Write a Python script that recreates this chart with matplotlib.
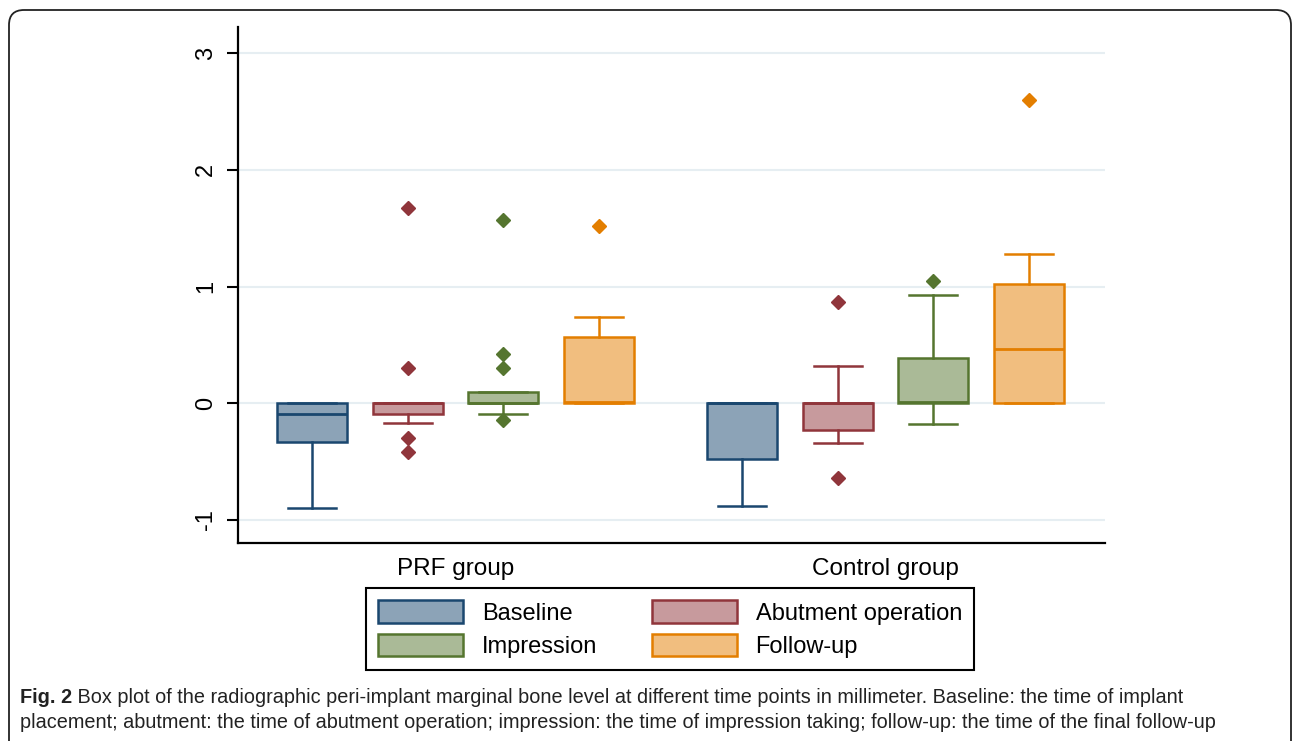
import matplotlib
matplotlib.use("Agg")
import matplotlib.pyplot as plt
from matplotlib.patches import FancyBboxPatch, Patch

plt.rcParams['font.family'] = ['Liberation Sans', 'DejaVu Sans']

stages = ['Baseline', 'Abutment operation', 'Impression', 'Follow-up']
groups = ['PRF group', 'Control group']

# PRF group, one value per stage
prf_q1 = [-0.33, -0.09, 0.00, 0.00]
prf_med = [-0.09, 0.00, 0.00, 0.01]
prf_q3 = [0.00, 0.00, 0.10, 0.57]
prf_lo = [-0.90, -0.165, -0.09, 0.00]
prf_hi = [0.00, 0.00, 0.10, 0.74]
prf_fliers = [[], [1.67, 0.30, -0.30, -0.42], [1.57, 0.42, 0.30, -0.145], [1.52]]

# Control group
ctrl_q1 = [-0.48, -0.23, 0.00, 0.00]
ctrl_med = [0.00, 0.00, 0.01, 0.465]
ctrl_q3 = [0.00, 0.00, 0.39, 1.02]
ctrl_lo = [-0.88, -0.34, -0.18, 0.00]
ctrl_hi = [0.00, 0.32, 0.93, 1.28]
ctrl_fliers = [[], [0.87, -0.64], [1.045], [2.60]]

edge_colors = ['#1A476F', '#90353B', '#55752F', '#E37E00']
fill_colors = ['#8CA3B7', '#C79A9D', '#AABA97', '#F1BE7F']

fig = plt.figure(figsize=(12.95, 7.41), dpi=100)
ax = fig.add_axes([0.1838, 0.2672, 0.6695, 0.6964])

positions = [1, 2, 3, 4, 5.5, 6.5, 7.5, 8.5]
all_stats = []
for q1, med, q3, lo, hi, fl in [(prf_q1, prf_med, prf_q3, prf_lo, prf_hi, prf_fliers),
                                (ctrl_q1, ctrl_med, ctrl_q3, ctrl_lo, ctrl_hi, ctrl_fliers)]:
    for i in range(4):
        all_stats.append(dict(q1=q1[i], med=med[i], q3=q3[i],
                              whislo=lo[i], whishi=hi[i], fliers=fl[i]))

for k, st in enumerate(all_stats):
    i = k % 4
    ec = edge_colors[i]
    ax.bxp([st], positions=[positions[k]], widths=0.73, capwidths=[0.5],
           patch_artist=True, manage_ticks=False,
           boxprops=dict(facecolor=fill_colors[i], edgecolor=ec, linewidth=1.8),
           medianprops=dict(color=ec, linewidth=2.0),
           whiskerprops=dict(color=ec, linewidth=1.8),
           capprops=dict(color=ec, linewidth=1.8),
           flierprops=dict(marker='D', markerfacecolor=ec, markeredgecolor=ec,
                           markersize=7))

ax.set_xlim(0.225, 9.296)
ax.set_ylim(-1.197, 3.223)
ax.set_yticks([-1, 0, 1, 2, 3])
ax.set_yticklabels(['-1', '0', '1', '2', '3'], rotation=90, va='center')
ax.set_xticks([2.5, 7.0])
ax.set_xticklabels(groups)
ax.tick_params(axis='x', length=0, pad=11, labelsize=17.5)
ax.tick_params(axis='y', length=8, width=1.5, pad=7, labelsize=17)
ax.grid(axis='y', color='#E6EEF2', linewidth=1.5)
ax.set_axisbelow(True)
for s in ['top', 'right']:
    ax.spines[s].set_visible(False)
for s in ['left', 'bottom']:
    ax.spines[s].set_linewidth(1.6)

# legend fills column-wise, so order gives rows: Baseline/Abutment, Impression/Follow-up
order = [0, 2, 1, 3]
handles = [Patch(facecolor=fill_colors[i], edgecolor=edge_colors[i], linewidth=1.8,
                 label=stages[i]) for i in order]
leg = fig.legend(handles=handles, loc='center', bbox_to_anchor=(0.5174, 0.151),
                 ncol=2, fontsize=17, fancybox=False, framealpha=1,
                 edgecolor='black', handlelength=3.6, handleheight=1.1,
                 handletextpad=0.8, columnspacing=2.3, labelspacing=0.38,
                 borderpad=0.5)
leg.get_frame().set_linewidth(1.5)

# outer rounded frame
frame = FancyBboxPatch((0.09, -0.5), 12.82, 7.81, boxstyle='round,pad=0,rounding_size=0.15',
                       transform=fig.dpi_scale_trans, facecolor='none',
                       edgecolor='#222222', linewidth=1.3)
fig.patches.append(frame)

cap_size = 14.3
t1 = fig.text(0.0155, 1 - 703 / 741, 'Fig. 2', fontsize=cap_size, fontweight='bold',
              va='baseline', color='#222222')
ax.annotate(' Box plot of the radiographic peri-implant marginal bone level at different time '
            'points in millimeter. Baseline: the time of implant',
            xy=(1, 0), xycoords=t1, va='bottom', ha='left', fontsize=cap_size,
            color='#222222', annotation_clip=False)
fig.text(0.0155, 1 - 728 / 741,
         'placement; abutment: the time of abutment operation; impression: the time of '
         'impression taking; follow-up: the time of the final follow-up',
         fontsize=cap_size, va='baseline', color='#222222')

fig.savefig('out.png', dpi=100)
